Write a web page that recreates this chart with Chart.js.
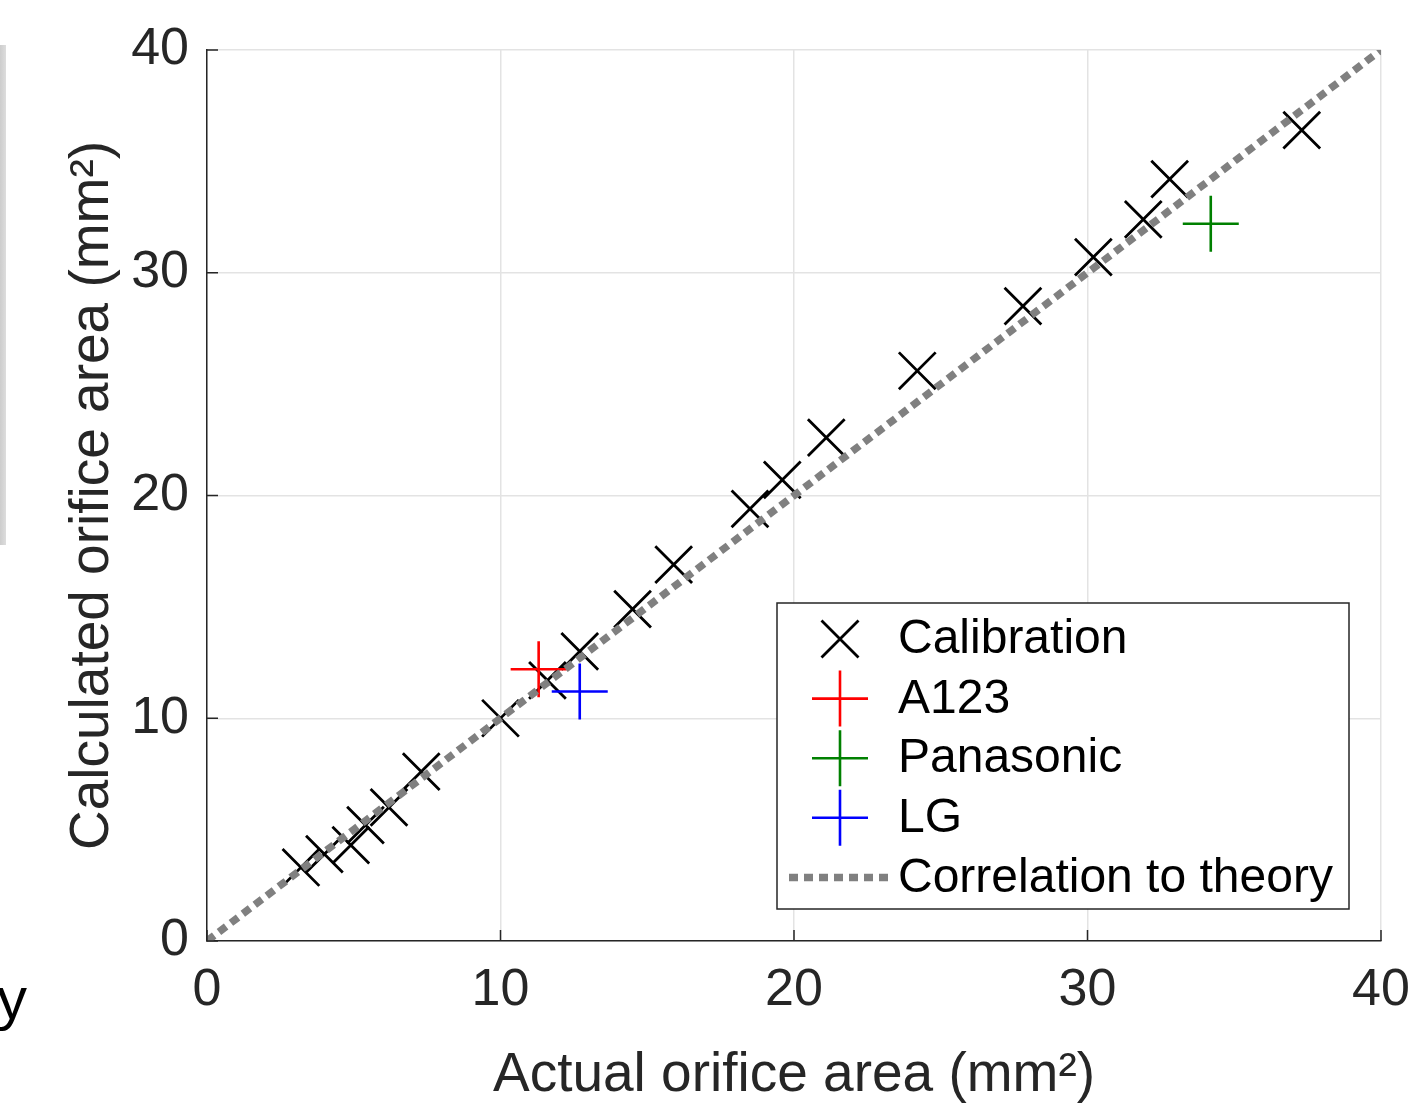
<!DOCTYPE html>
<html>
<head>
<meta charset="utf-8">
<title>Orifice area calibration</title>
<script src="https://cdn.jsdelivr.net/npm/chart.js@4"></script>
<style>
  body { margin: 0; background: #fff; }
  canvas { display: block; }
</style>
</head>
<body>
<canvas id="chart" width="1412" height="1109"></canvas>
<script>
// calibration runs: actual vs calculated orifice area (mm^2)
const calActual = [3.2, 4.0, 4.9, 5.4, 6.2, 7.3, 10.0, 11.6, 12.7, 14.5, 15.9, 18.5, 19.6, 21.1, 24.2, 27.8, 30.2, 31.9, 32.8, 37.3];
const calCalc   = [3.3, 3.9, 4.3, 5.2, 6.0, 7.6, 10.0, 11.7, 13.0, 14.9, 16.9, 19.4, 20.7, 22.6, 25.6, 28.5, 30.7, 32.4, 34.2, 36.4];

// cells tested
const cellNames  = ['A123', 'Panasonic', 'LG'];
const cellActual = [11.3, 34.2, 12.7];
const cellCalc   = [12.2, 32.2, 11.2];
const cellColors = ['#ff0000', '#008000', '#0000ff'];

// theory line y = x
const theoryX = [0, 40];
const theoryY = [0, 40];

const axisTicks = [0, 10, 20, 30, 40];

const FONT = "'Liberation Sans', Arial, Helvetica, sans-serif";
const AXIS_COLOR = '#262626';
const LINE_DASH = [9, 6];

const toPoints = (xs, ys) => xs.map((x, i) => ({ x: x, y: ys[i] }));

const datasets = [
    {
        label: 'Calibration',
        data: toPoints(calActual, calCalc),
        pointStyle: 'crossRot',
        pointRadius: 26,
        pointBorderWidth: 2.8,
        borderColor: '#000',
        backgroundColor: '#000',
        order: 4
    }
];
cellNames.forEach((name, i) => {
    datasets.push({
        label: name,
        data: [{ x: cellActual[i], y: cellCalc[i] }],
        pointStyle: 'cross',
        pointRadius: 28,
        pointBorderWidth: 2.6,
        borderColor: cellColors[i],
        backgroundColor: cellColors[i],
        order: 3 - i
    });
});
datasets.push({
    label: 'Correlation to theory',
    type: 'line',
    data: toPoints(theoryX, theoryY),
    showLine: true,
    pointRadius: 0,
    borderColor: '#808080',
    borderWidth: 7.5,
    borderDash: LINE_DASH,
    borderCapStyle: 'butt',
    fill: false,
    order: 0
});

const legendItems = [{ label: 'Calibration', kind: 'x', color: '#000' }];
cellNames.forEach((n, i) => legendItems.push({ label: n, kind: '+', color: cellColors[i] }));
legendItems.push({ label: 'Correlation to theory', kind: 'line', color: '#808080' });

// background, inward ticks, boxed legend, and the bits of the neighbouring figure
const extras = {
    id: 'extras',
    beforeDraw(chart) {
        const c = chart.ctx;
        c.save();
        c.fillStyle = '#fff';
        c.fillRect(0, 0, chart.width, chart.height);
        const g = c.createLinearGradient(0, 0, 7, 0);
        g.addColorStop(0, '#cdcdcd');
        g.addColorStop(1, '#e0e0e0');
        c.fillStyle = g;
        c.fillRect(0, 45, 6, 500);
        c.fillStyle = '#000';
        c.font = '60px ' + FONT;
        c.textAlign = 'right';
        c.textBaseline = 'alphabetic';
        c.fillText('y', 27, 1019);
        c.restore();
    },
    afterDraw(chart) {
        const c = chart.ctx;
        const xs = chart.scales.x, ys = chart.scales.y;
        const ca = chart.chartArea;
        c.save();

        c.strokeStyle = AXIS_COLOR;
        c.lineWidth = 1.5;
        c.beginPath();
        axisTicks.forEach(v => {
            const px = xs.getPixelForValue(v);
            c.moveTo(px, ca.bottom);
            c.lineTo(px, ca.bottom - 11);
            const py = ys.getPixelForValue(v);
            c.moveTo(ca.left, py);
            c.lineTo(ca.left + 11, py);
        });
        c.stroke();

        // legend
        const bx = 777, by = 603, bw = 572, bh = 306;
        c.fillStyle = '#fff';
        c.fillRect(bx, by, bw, bh);
        c.strokeStyle = AXIS_COLOR;
        c.lineWidth = 1.5;
        c.strokeRect(bx, by, bw, bh);

        c.font = '48px ' + FONT;
        c.textAlign = 'left';
        c.textBaseline = 'middle';
        legendItems.forEach((item, i) => {
            const cy = 639 + i * 59.6;
            const cx = 840;
            c.strokeStyle = item.color;
            c.beginPath();
            if (item.kind === 'x') {
                c.lineWidth = 2.8;
                c.moveTo(cx - 18.5, cy - 18.5); c.lineTo(cx + 18.5, cy + 18.5);
                c.moveTo(cx - 18.5, cy + 18.5); c.lineTo(cx + 18.5, cy - 18.5);
                c.stroke();
            } else if (item.kind === '+') {
                c.lineWidth = 2.6;
                c.moveTo(cx - 28, cy); c.lineTo(cx + 28, cy);
                c.moveTo(cx, cy - 28); c.lineTo(cx, cy + 28);
                c.stroke();
            } else {
                c.lineWidth = 7.5;
                c.setLineDash(LINE_DASH);
                c.moveTo(789, cy); c.lineTo(889, cy);
                c.stroke();
                c.setLineDash([]);
            }
            c.fillStyle = '#000';
            c.fillText(item.label, 898, cy + 1);
        });

        c.restore();
    }
};

const axisOpts = (title, fitFn, titlePad) => ({
    type: 'linear',
    min: 0,
    max: 40,
    afterBuildTicks: s => { s.ticks = axisTicks.map(v => ({ value: v })); },
    afterFit: fitFn,
    grid: { color: '#e3e3e3', lineWidth: 1.5, drawTicks: false },
    border: { color: AXIS_COLOR, width: 1.5 },
    ticks: {
        color: AXIS_COLOR,
        font: { family: FONT, size: 52 },
        padding: 18
    },
    title: {
        display: true,
        text: title,
        color: AXIS_COLOR,
        font: { family: FONT, size: 55, lineHeight: 1.2 },
        padding: titlePad
    }
});

new Chart(document.getElementById('chart'), {
    type: 'scatter',
    data: { datasets: datasets },
    options: {
        responsive: false,
        animation: false,
        layout: { padding: { top: 50, right: 31, left: 0, bottom: 0 } },
        plugins: {
            legend: { display: false },
            tooltip: { enabled: false }
        },
        scales: {
            x: axisOpts('Actual orifice area (mm²)', s => {
                s.height = 168;
                s.paddingLeft = 0;
                s.paddingRight = 0;
            }, { top: 0, bottom: 0 }),
            y: axisOpts('Calculated orifice area (mm²)', s => {
                s.width = 207;
                s.paddingTop = 0;
                s.paddingBottom = 0;
            }, { top: 60, bottom: 0 })
        }
    },
    plugins: [extras]
});
</script>
</body>
</html>
